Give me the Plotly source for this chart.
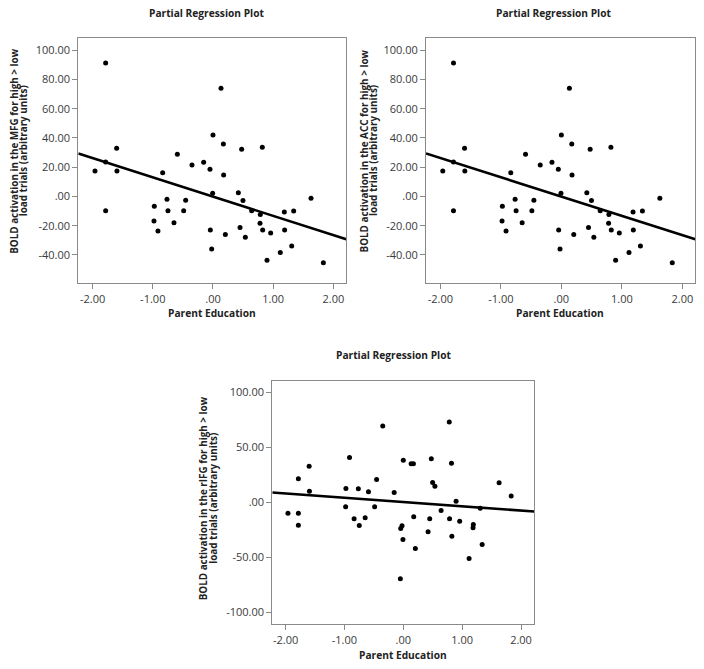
import plotly.graph_objects as go

W, H = 704, 669

# Parent Education (partial residuals) - same predictor for all three plots
parent_edu = [-1.960, -1.783, -1.783, -1.783, -1.600, -1.595, -0.975, -0.980, -0.914, -0.836,
              -0.764, -0.748, -0.648, -0.592, -0.487, -0.454, -0.349, -0.155, -0.050, 0.000,
              -0.006, -0.044, -0.022, 0.133, 0.172, 0.177, 0.205, 0.421, 0.449, 0.476,
              0.498, 0.537, 0.642, 0.786, 0.781, 0.819, 0.825, 0.897, 0.958, 1.118,
              1.185, 1.190, 1.307, 1.340, 1.628, 1.833]

# BOLD MFG / ACC (identical in the figure)
bold_mfg = [17.4, 91.3, 23.6, -9.7, 32.9, 17.4, -6.7, -16.8, -23.6, 16.3,
            -1.9, -9.7, -17.9, 28.8, -9.7, -2.6, 21.5, 23.4, 18.6, 42.0,
            2.2, -22.9, -35.9, 74.0, 35.9, 14.7, -26.1, 2.6, -21.3, 32.3,
            -2.8, -27.9, -9.7, -12.4, -18.4, 33.6, -22.9, -43.7, -25.0, -38.4,
            -10.6, -22.9, -33.9, -9.9, -1.3, -45.3]
bold_acc = list(bold_mfg)

# BOLD rIFG
parent_edu_rifg = [-1.960, -1.783, -1.783, -1.783, -1.600, -1.595, -0.975, -0.980, -0.914, -0.836,
                   -0.764, -0.748, -0.648, -0.592, -0.487, -0.454, -0.349, -0.155, -0.050, -0.044,
                   -0.022, -0.006, 0.000, 0.133, 0.172, 0.177, 0.205, 0.421, 0.449, 0.476,
                   0.498, 0.537, 0.642, 0.781, 0.786, 0.819, 0.825, 0.897, 0.958, 1.118,
                   1.185, 1.190, 1.307, 1.340, 1.628, 1.833]
bold_rifg = [-9.7, 21.5, -9.7, -20.6, 33.0, 10.3, 12.7, -3.9, 40.9, -14.8,
             12.4, -20.9, -13.9, 9.7, -3.9, 20.9, 69.7, 9.1, -69.4, -23.6,
             -21.2, -33.6, 38.5, 35.2, 35.2, -13.0, -41.8, -26.7, -14.8, 39.7,
             18.2, 14.8, -7.3, 73.3, -14.8, 35.8, -30.6, 1.2, -17.0, -50.9,
             -23.0, -20.0, -5.2, -38.2, 17.9, 5.8]

# fit lines (slope, intercept)
fit_mfg = (-13.2, -0.1)
fit_acc = (-13.2, -0.1)
fit_rifg = (-3.88, 0.4)

x_tickvals = [-2, -1, 0, 1, 2]
x_ticktext = ["-2.00", "-1.00", ".00", "1.00", "2.00"]
y_tickvals_top = [-40, -20, 0, 20, 40, 60, 80, 100]
y_ticktext_top = ["-40.00", "-20.00", ".00", "20.00", "40.00", "60.00", "80.00", "100.00"]
y_tickvals_bot = [-100, -50, 0, 50, 100]
y_ticktext_bot = ["-100.00", "-50.00", ".00", "50.00", "100.00"]

title_text = "Partial Regression Plot"
x_title = "Parent Education"
y_titles = [("BOLD activation in the MFG for high > low", "load trials (arbitrary units)"),
            ("BOLD activation in the ACC for high > low", "load trials (arbitrary units)"),
            ("BOLD activation in the rIFG for high > low", "load trials (arbitrary units)")]

FONT = "Open Sans"

def px2x(p):
    return p / W

def py2y(p):
    return 1 - p / H

# panel boxes in pixels: left, right, top, bottom
panels = [
    dict(box=(78.3, 346.3, 37.7, 283.3), xr=[-2.237, 2.214], yr=[-59.4, 108.6],
         x=parent_edu, y=bold_mfg, fit=fit_mfg, yt=(y_tickvals_top, y_ticktext_top),
         title_xy=(206, 13), xt_xy=(212.3, 312.7), yl_x=(13.8, 23.3), yl_y=151,
         ytitle=y_titles[0]),
    dict(box=(426.0, 695.3, 37.7, 283.3), xr=[-2.237, 2.214], yr=[-59.4, 108.6],
         x=parent_edu, y=bold_acc, fit=fit_acc, yt=(y_tickvals_top, y_ticktext_top),
         title_xy=(553.5, 13), xt_xy=(560.0, 312.7), yl_x=(363.5, 373.0), yl_y=151,
         ytitle=y_titles[1]),
    dict(box=(272.3, 534.3, 380.7, 624.3), xr=[-2.226, 2.226], yr=[-110.8, 110.8],
         x=parent_edu_rifg, y=bold_rifg, fit=fit_rifg, yt=(y_tickvals_bot, y_ticktext_bot),
         title_xy=(393, 355), xt_xy=(403.3, 655), yl_x=(203.3, 212.8), yl_y=498,
         ytitle=y_titles[2]),
]

fig = go.Figure()
annotations = []
axis_color = "#8a8a8a"
for i, p in enumerate(panels, start=1):
    xa = "x" if i == 1 else f"x{i}"
    ya = "y" if i == 1 else f"y{i}"
    fig.add_trace(go.Scatter(x=p["x"], y=p["y"], mode="markers", xaxis=xa, yaxis=ya,
                             marker=dict(color="black", size=5), showlegend=False,
                             hoverinfo="x+y"))
    slope, icpt = p["fit"]
    fx = p["xr"]
    fy = [slope * v + icpt for v in fx]
    fig.add_trace(go.Scatter(x=fx, y=fy, mode="lines", xaxis=xa, yaxis=ya,
                             line=dict(color="black", width=2.6), showlegend=False,
                             hoverinfo="skip"))
    l, r, t, b = p["box"]
    common = dict(showline=True, mirror=True, linecolor=axis_color, linewidth=1,
                  ticks="outside", ticklen=5, tickcolor=axis_color, tickwidth=1,
                  showgrid=False, zeroline=False, ticklabeloverflow="allow",
                  tickfont=dict(family=FONT, size=11, color="#3a3a3a"))
    fig.layout[f"xaxis{'' if i == 1 else i}"] = dict(
        domain=[px2x(l), px2x(r)], range=p["xr"], anchor=ya,
        tickvals=x_tickvals, ticktext=x_ticktext, **common)
    fig.layout[f"yaxis{'' if i == 1 else i}"] = dict(
        domain=[py2y(b), py2y(t)], range=p["yr"], anchor=xa,
        tickvals=p["yt"][0], ticktext=p["yt"][1], **common)
    annotations.append(dict(text=title_text, x=px2x(p["title_xy"][0]), y=py2y(p["title_xy"][1]),
                            xref="paper", yref="paper", showarrow=False,
                            xanchor="center", yanchor="middle",
                            font=dict(family=FONT, size=10.2, color="#222", weight="bold")))
    annotations.append(dict(text=x_title, x=px2x(p["xt_xy"][0]), y=py2y(p["xt_xy"][1]),
                            xref="paper", yref="paper", showarrow=False,
                            xanchor="center", yanchor="middle",
                            font=dict(family=FONT, size=10.2, color="#222", weight="bold")))
    for line_text, lx in zip(p["ytitle"], p["yl_x"]):
        annotations.append(dict(text=line_text, x=px2x(lx), y=py2y(p["yl_y"]),
                                xref="paper", yref="paper", showarrow=False, textangle=-90,
                                xanchor="center", yanchor="middle",
                                font=dict(family=FONT, size=9.9, color="#222", weight="bold")))

fig.update_layout(width=W, height=H, margin=dict(l=0, r=0, t=0, b=0),
                  paper_bgcolor="white", plot_bgcolor="white",
                  annotations=annotations, showlegend=False)

fig.write_html("out.html", config={"displayModeBar": False},
               post_script="document.body.style.margin='0';document.body.style.padding='0';"
                           "document.documentElement.style.overflow='hidden';")
